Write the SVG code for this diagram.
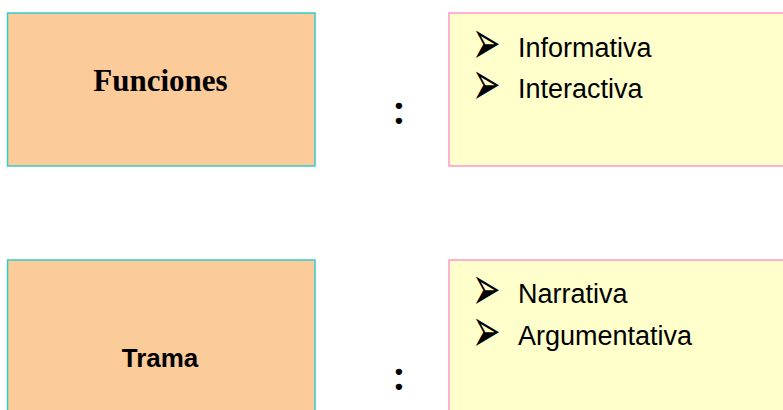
<svg xmlns="http://www.w3.org/2000/svg" width="783" height="410" viewBox="0 0 783 410">
  <style>
    .lbl { fill: #FCCB9A; stroke: #36CACA; stroke-width: 1.5; }
    .lst { fill: #FFFFCC; stroke: #FF99CC; stroke-width: 1.5; }
    .title1 { font-family: "Liberation Serif", serif; font-weight: bold; font-size: 31px; fill: #000; }
    .title2 { font-family: "Liberation Sans", Arial, sans-serif; font-weight: bold; font-size: 26px; fill: #000; }
    .item { font-family: "Liberation Sans", Arial, sans-serif; font-size: 27px; fill: #000; }
    .bul { font-family: "DejaVu Sans", sans-serif; font-size: 34px; fill: #000; }
    .colon { font-family: Lato, "Liberation Sans", sans-serif; font-weight: bold; font-size: 42px; fill: #000; }
  </style>
  <rect width="783" height="410" fill="#FFFFFF"/>
  <g id="funciones">
    <rect class="lbl" x="7.5" y="13" width="307.5" height="153"/>
    <text class="title1" x="160.5" y="90.5" text-anchor="middle">Funciones</text>
  </g>
  <g id="funciones-colon">
    <text class="colon" x="399" y="124" text-anchor="middle">:</text>
  </g>
  <g id="funciones-list">
    <rect class="lst" x="449" y="13" width="345" height="153"/>
    <text class="bul" transform="translate(472,44) scale(1,1.85)" y="11">➢</text>
    <text class="item" x="518" y="57">Informativa</text>
    <text class="bul" transform="translate(472,85) scale(1,1.85)" y="11">➢</text>
    <text class="item" x="518" y="98">Interactiva</text>
  </g>
  <g id="trama">
    <rect class="lbl" x="7.5" y="260" width="307.5" height="170"/>
    <text class="title2" x="160" y="367" text-anchor="middle">Trama</text>
  </g>
  <g id="trama-colon">
    <text class="colon" x="399" y="390" text-anchor="middle">:</text>
  </g>
  <g id="trama-list">
    <rect class="lst" x="449" y="260" width="345" height="170"/>
    <text class="bul" transform="translate(472,290) scale(1,1.85)" y="11">➢</text>
    <text class="item" x="518" y="303">Narrativa</text>
    <text class="bul" transform="translate(472,332) scale(1,1.85)" y="11">➢</text>
    <text class="item" x="518" y="345">Argumentativa</text>
  </g>
  <g id="connectors"/>
</svg>
